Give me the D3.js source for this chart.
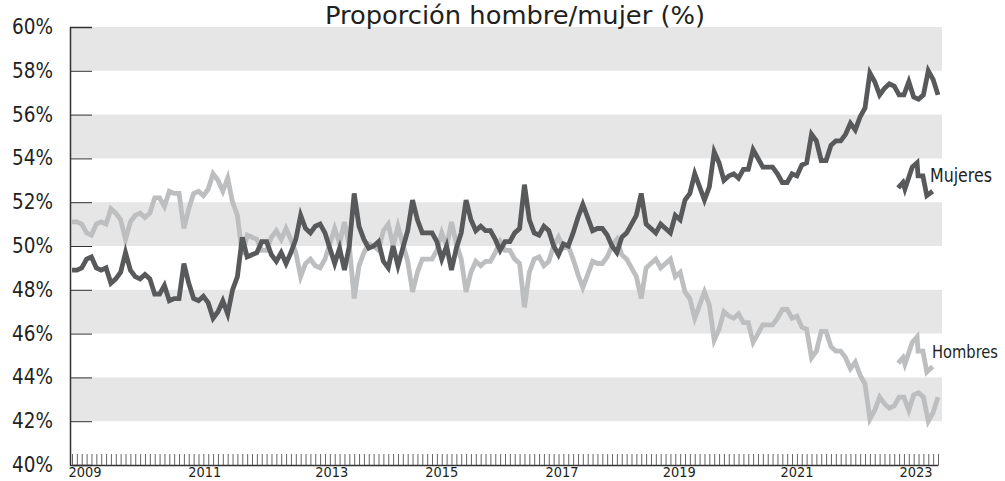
<!DOCTYPE html>
<html>
<head>
<meta charset="utf-8">
<script src="https://cdnjs.cloudflare.com/ajax/libs/d3/7.8.5/d3.min.js"></script>
<style>
  body { margin: 0; background: #fff; }
  svg text { font-family: "Liberation Sans Narrow", "DejaVu Sans Condensed", "Liberation Sans", sans-serif; fill: #231f20; }
</style>
</head>
<body>
<div id="chart"></div>
<script>
// monthly share of women (dark) and men (light)
var mujeres = [
  48.9, 48.9, 49.0, 49.4, 49.5, 49.0, 48.9, 49.0, 48.3, 48.5,
  48.8, 49.7, 48.9, 48.6, 48.5, 48.7, 48.5, 47.8, 47.8, 48.2,
  47.5, 47.6, 47.6, 49.2, 48.3, 47.6, 47.5, 47.7, 47.4, 46.7,
  47.0, 47.5, 46.9, 48.0, 48.6, 50.4, 49.5, 49.6, 49.7, 50.2,
  50.2, 49.6, 49.3, 49.7, 49.2, 49.7, 50.3, 51.4,
  50.8, 50.6, 50.9, 51.0, 50.6, 49.9, 49.2, 49.9, 48.9, 50.0,
  52.4, 50.9, 50.3, 49.9, 50.0, 50.2, 49.3, 49.0, 50.0, 49.1,
  49.9, 50.7, 52.1, 51.2, 50.6, 50.6, 50.6, 50.2, 49.4, 50.0,
  48.9, 49.9, 50.6, 52.1, 51.2, 50.7, 50.9, 50.7, 50.7, 50.3,
  49.8, 50.2, 50.2, 50.6, 50.8, 52.8, 51.2, 50.6, 50.5, 50.9,
  50.7, 50.0, 49.6, 50.1, 50.0, 50.6, 51.3, 51.9, 51.3, 50.7,
  50.8, 50.8, 50.5, 50.0, 49.7, 50.4, 50.6, 51.0, 51.4, 52.4,
  51.0, 50.8, 50.6, 51.0,
  50.8, 50.6, 51.4, 51.2, 52.1, 52.4, 53.3, 52.7, 52.1, 52.7,
  54.3, 53.8, 53.0, 53.2, 53.3, 53.1, 53.5, 53.5, 54.4, 54.0,
  53.6, 53.6, 53.6, 53.3, 52.9, 52.9, 53.3, 53.2, 53.7, 53.8,
  55.1, 54.8, 53.9, 53.9, 54.6, 54.8, 54.8, 55.1, 55.6, 55.3,
  55.9, 56.3, 57.9, 57.5, 56.9, 57.2, 57.4, 57.3, 56.9, 56.9,
  57.5, 56.8, 56.7, 56.9, 58.0, 57.6, 56.9
];
var hombres = [
  51.1, 51.1, 51.0, 50.6, 50.5, 51.0, 51.1, 51.0, 51.7, 51.5,
  51.2, 50.3, 51.1, 51.4, 51.5, 51.3, 51.5, 52.2, 52.2, 51.8,
  52.5, 52.4, 52.4, 50.8, 51.7, 52.4, 52.5, 52.3, 52.6, 53.3,
  53.0, 52.5, 53.1, 52.0, 51.4, 49.6, 50.5, 50.4, 50.3, 49.8,
  49.8, 50.4, 50.7, 50.3, 50.8, 50.3, 49.7, 48.6,
  49.2, 49.4, 49.1, 49.0, 49.4, 50.1, 50.8, 50.1, 51.1, 50.0,
  47.6, 49.1, 49.7, 50.1, 50.0, 49.8, 50.7, 51.0, 50.0, 50.9,
  50.1, 49.3, 47.9, 48.8, 49.4, 49.4, 49.4, 49.8, 50.6, 50.0,
  51.1, 50.1, 49.4, 47.9, 48.8, 49.3, 49.1, 49.3, 49.3, 49.7,
  50.2, 49.8, 49.8, 49.4, 49.2, 47.2, 48.8, 49.4, 49.5, 49.1,
  49.3, 50.0, 50.4, 49.9, 50.0, 49.4, 48.7, 48.1, 48.7, 49.3,
  49.2, 49.2, 49.5, 50.0, 50.3, 49.6, 49.4, 49.0, 48.6, 47.6,
  49.0, 49.2, 49.4, 49.0,
  49.2, 49.4, 48.6, 48.8, 47.9, 47.6, 46.7, 47.3, 47.9, 47.3,
  45.7, 46.2, 47.0, 46.8, 46.7, 46.9, 46.5, 46.5, 45.6, 46.0,
  46.4, 46.4, 46.4, 46.7, 47.1, 47.1, 46.7, 46.8, 46.3, 46.2,
  44.9, 45.2, 46.1, 46.1, 45.4, 45.2, 45.2, 44.9, 44.4, 44.7,
  44.1, 43.7, 42.1, 42.5, 43.1, 42.8, 42.6, 42.7, 43.1, 43.1,
  42.5, 43.2, 43.3, 43.1, 42.0, 42.4, 43.1
];

var yTicks = [40, 42, 44, 46, 48, 50, 52, 54, 56, 58, 60];
var bands = [[42, 44], [46, 48], [50, 52], [54, 56], [58, 60]];
var yearLabels = ["2009", "2011", "2013", "2015", "2017", "2019", "2021", "2023"];
var yearIdx = [2.7, 27.3, 53.4, 76, 100.7, 124.8, 149, 173.5];

// little legend glyphs drawn beside the series names
var legendIdx = [169.8, 170.8, 171.2, 172.7, 173.7, 173.9, 174.9, 175.7, 176.9];
var legendMujeres = [52.65, 52.9, 52.6, 53.6, 53.8, 53.2, 53.2, 52.3, 52.5];
var legendHombres = [44.65, 44.9, 44.6, 45.6, 45.85, 45.2, 45.2, 44.25, 44.5];

var darkColor = "#58595b";
var lightColor = "#bdbec0";
var bandColor = "#e6e6e6";
var lineWidth = 4.8;

var width = 1005, height = 481;
var svg = d3.select("#chart").append("svg")
    .attr("width", width)
    .attr("height", height);

var x = d3.scaleLinear().domain([0, mujeres.length - 1]).range([72, 938]);
var y = d3.scaleLinear().domain([40, 60]).range([465, 27]);

svg.selectAll(".band")
    .data(bands)
    .join("rect")
    .attr("class", "band")
    .attr("x", 70)
    .attr("width", 872)
    .attr("y", d => y(d[1]))
    .attr("height", d => y(d[0]) - y(d[1]))
    .attr("fill", bandColor);

// y axis: line on the left, ticks pointing into the plot
var yAxis = svg.append("g")
    .attr("transform", "translate(70,0)")
    .call(d3.axisRight(y).tickValues(yTicks).tickSize(22).tickFormat(""));
yAxis.select(".domain").attr("stroke", "#333").attr("stroke-width", 1.5);
yAxis.selectAll(".tick line").attr("stroke", "#333");

svg.selectAll(".ylab")
    .data(yTicks)
    .join("text")
    .attr("class", "ylab")
    .attr("x", 53)
    .attr("y", d => y(d) + 7)
    .attr("text-anchor", "end")
    .attr("font-size", 22)
    .attr("textLength", 41)
    .attr("lengthAdjust", "spacingAndGlyphs")
    .text(d => d + "%");

// x axis: one small tick per month
var xAxis = svg.append("g")
    .attr("transform", "translate(0,465)")
    .call(d3.axisTop(x).tickValues(d3.range(mujeres.length)).tickSize(11).tickFormat("").tickSizeOuter(0));
xAxis.select(".domain").attr("stroke", "#333").attr("stroke-width", 1.5);
xAxis.selectAll(".tick line").attr("stroke", "#555").attr("stroke-width", 0.9);

svg.selectAll(".xlab")
    .data(yearLabels)
    .join("text")
    .attr("class", "xlab")
    .attr("x", (d, i) => x(yearIdx[i]))
    .attr("y", 477)
    .attr("text-anchor", "middle")
    .attr("font-size", 14)
    .attr("textLength", 33)
    .attr("lengthAdjust", "spacingAndGlyphs")
    .text(d => d);

var line = d3.line()
    .x((d, i) => x(i))
    .y(d => y(d));

svg.append("path")
    .datum(hombres)
    .attr("fill", "none")
    .attr("stroke", lightColor)
    .attr("stroke-width", lineWidth)
    .attr("stroke-linejoin", "miter")
    .attr("d", line);

svg.append("path")
    .datum(mujeres)
    .attr("fill", "none")
    .attr("stroke", darkColor)
    .attr("stroke-width", lineWidth)
    .attr("stroke-linejoin", "miter")
    .attr("d", line);

var legendLine = d3.line()
    .x((d, i) => x(legendIdx[i]))
    .y(d => y(d));

[[legendMujeres, darkColor, "Mujeres", 930, 182, 62, 19], [legendHombres, lightColor, "Hombres", 932, 358, 66, 17]].forEach(l => {
    svg.append("path")
        .datum(l[0])
        .attr("fill", "none")
        .attr("stroke", l[1])
        .attr("stroke-width", lineWidth)
        .attr("d", legendLine);
    svg.append("text")
        .attr("x", l[3])
        .attr("y", l[4])
        .attr("font-size", l[6])
        .attr("textLength", l[5])
        .attr("lengthAdjust", "spacingAndGlyphs")
        .text(l[2]);
});

svg.append("text")
    .attr("x", 325)
    .attr("y", 24)
    .attr("font-size", 25)
    .attr("font-weight", 300)
    .attr("textLength", 380)
    .attr("lengthAdjust", "spacingAndGlyphs")
    .text("Proporción hombre/mujer (%)");
</script>
</body>
</html>
